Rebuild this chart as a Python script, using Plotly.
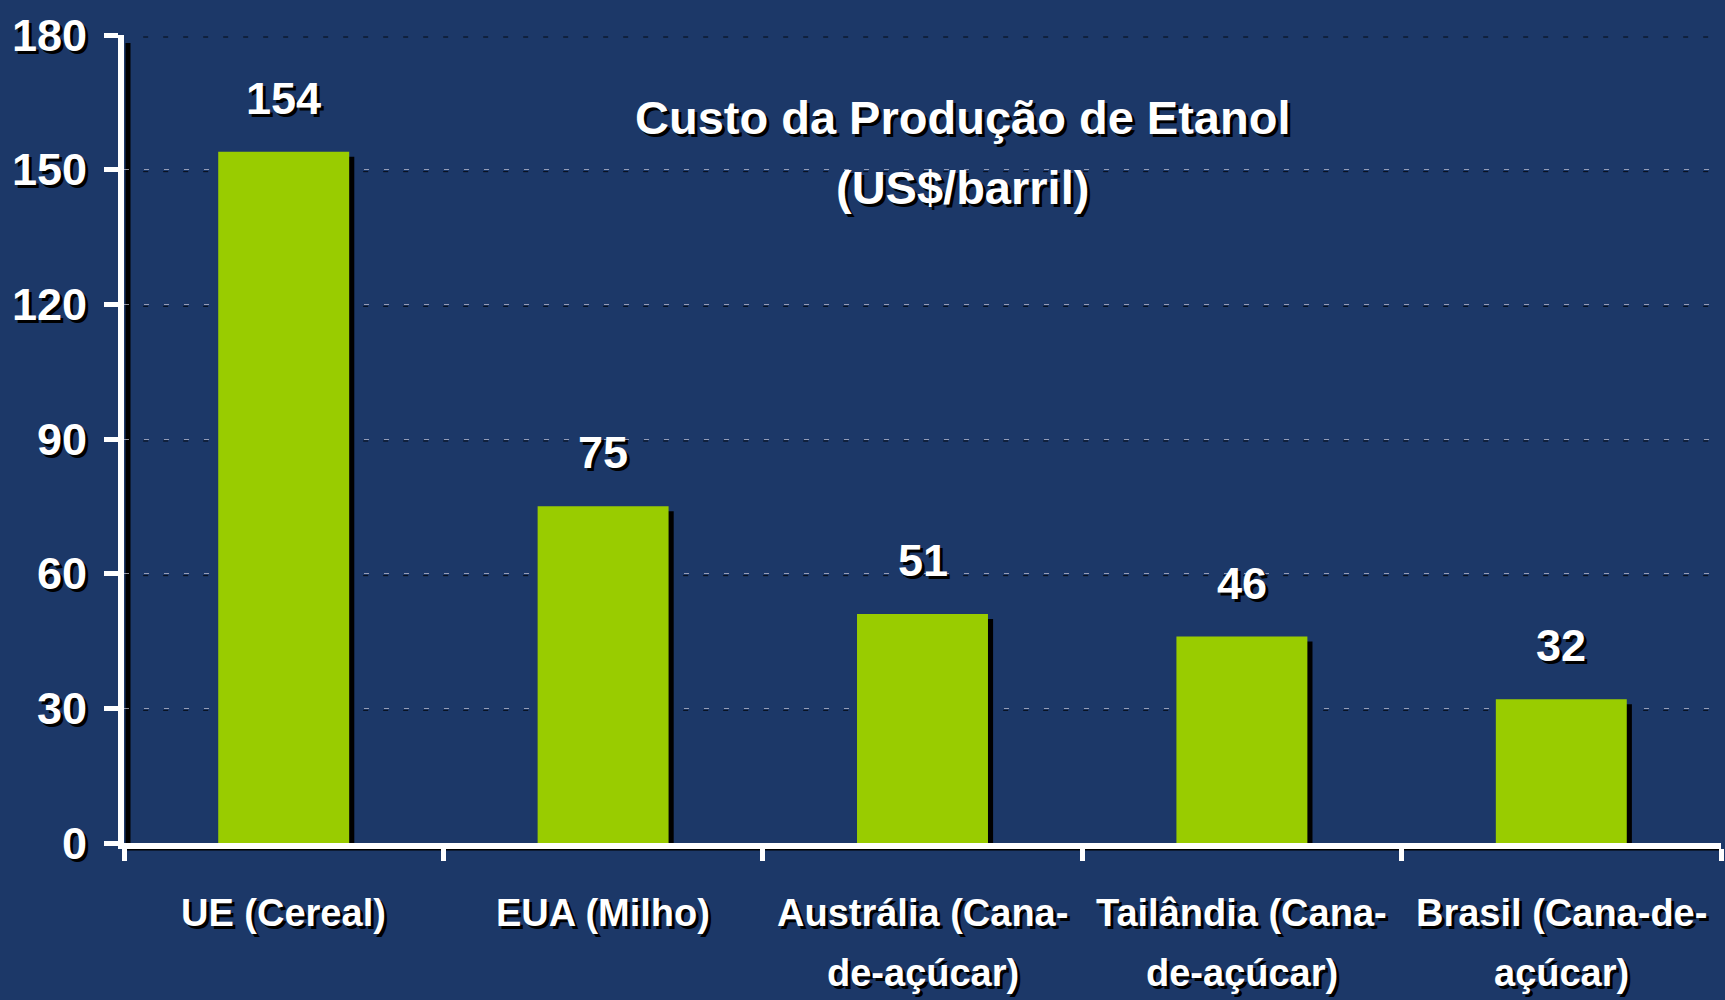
import plotly.graph_objects as go

categories = ["UE (Cereal)", "EUA (Milho)", "Austrália (Cana-<br>de-açúcar)",
              "Tailândia (Cana-<br>de-açúcar)", "Brasil (Cana-de-<br>açúcar)"]
values = [154, 75, 51, 46, 32]
y_ticks = [0, 30, 60, 90, 120, 150, 180]
title_lines = ["Custo da Produção de Etanol", "(US$/barril)"]

BG = "#1c3868"
BAR = "#99cc00"
FONT = "Liberation Sans, Arial, sans-serif"
SHADOW = "3px 3px 0px #000000"

bar_w = 0.41
shadow_dx = 0.016  # category units (~5 px)
shadow_dy = 1.1    # value units (~5 px)

fig = go.Figure()
# drop shadow of bars
fig.add_trace(go.Bar(
    x=categories, y=[v - shadow_dy for v in values], width=bar_w,
    offset=-bar_w / 2 + shadow_dx, marker=dict(color="black", line=dict(width=0)),
    hoverinfo="skip", showlegend=False))
fig.add_trace(go.Bar(
    x=categories, y=values, width=bar_w, offset=-bar_w / 2,
    marker=dict(color=BAR, line=dict(width=0)), showlegend=False))

# value labels
for c, v in zip(categories, values):
    fig.add_annotation(x=c, y=v, text=str(v), showarrow=False, yanchor="bottom",
                       yshift=26, font=dict(family=FONT, size=45, color="white",
                                            weight="bold", shadow=SHADOW))

# category labels (two lines with wider spacing)
for c in categories:
    for j, part in enumerate(c.split("<br>")):
        fig.add_annotation(x=c, y=0, text=part, showarrow=False, yanchor="middle",
                           yshift=-70 - 60 * j,
                           font=dict(family=FONT, size=38, color="white", weight="bold",
                                     shadow=SHADOW))

# title
for i, line in enumerate(title_lines):
    fig.add_annotation(x=0.525, xref="paper", y=1, yref="paper", yanchor="middle",
                       yshift=-82 - 70 * i, text=line, showarrow=False,
                       font=dict(family=FONT, size=47, color="white", weight="bold",
                                 shadow=SHADOW))

# gridline shadows
for t in y_ticks[1:]:
    fig.add_shape(type="line", xref="paper", yref="y", ysizemode="pixel", yanchor=t,
                  y0=-2, y1=-2, x0=0.012, x1=1,
                  line=dict(color="rgba(0,0,0,0.8)", width=1, dash="5px,15px"), layer="below")

# axis line shadows
fig.add_shape(type="line", xref="paper", yref="paper", xsizemode="pixel", xanchor=0,
              x0=4, x1=4, y0=-0.005, y1=0.99, line=dict(color="black", width=5), layer="below")
fig.add_shape(type="line", xref="paper", yref="paper", ysizemode="pixel", yanchor=0,
              y0=-5, y1=-5, x0=0.0, x1=1, line=dict(color="black", width=5), layer="below")

fig.update_layout(
    width=1725, height=1000,
    paper_bgcolor=BG, plot_bgcolor=BG,
    margin=dict(l=124, r=4, t=35, b=157),
    barmode="overlay", bargap=0.59,
    font=dict(family=FONT, color="white"),
    xaxis=dict(
        type="category", tickson="boundaries", ticks="outside", ticklen=12, tickwidth=5,
        tickcolor="white", showline=True, linecolor="white", linewidth=6,
        showgrid=False, showticklabels=False, automargin=False),
    yaxis=dict(
        range=[0, 180], tickvals=y_ticks, ticks="outside", ticklen=14, tickwidth=5,
        tickcolor="white", showline=True, linecolor="white", linewidth=6,
        showgrid=True, gridcolor="rgba(200,200,215,0.7)", gridwidth=1, griddash="5px,15px",
        zeroline=False, ticklabelstandoff=8, automargin=False,
        tickfont=dict(family=FONT, size=45, color="white", weight="bold", shadow=SHADOW)),
)

fig.write_html("out.html", config={"displayModeBar": False},
               post_script="document.body.style.margin='0';"
                           "document.body.style.background='" + BG + "';")
